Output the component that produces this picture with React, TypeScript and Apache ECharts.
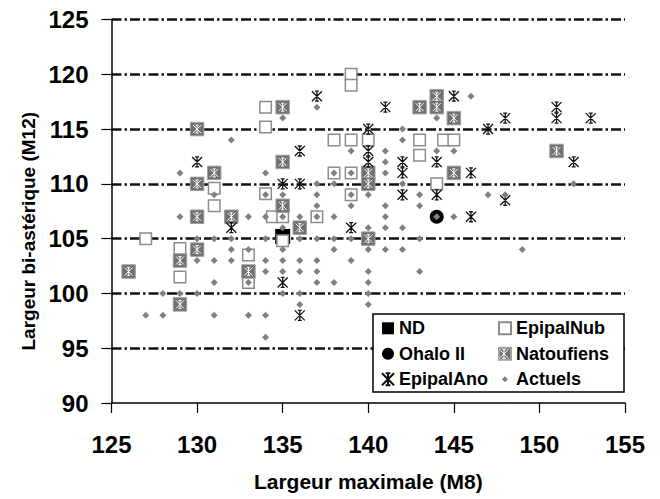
import React, { useEffect, useRef } from 'react';
import * as echarts from 'echarts';

// [Largeur maximale (M8), Largeur bi-astérique (M12)]
const ndData: number[][] = [[135, 105.2]];
const ohaloData: number[][] = [[144, 107]];
const epipalNubData: number[][] = [
  [134, 117], [134, 115.2], [139, 120], [139, 119], [138, 114], [139, 114], [140, 114],
  [143, 114], [144.4, 114], [145, 114], [143, 112.6], [131, 109.6], [134, 109.1],
  [138, 111], [139, 111], [139, 109], [131, 108], [144, 110], [134.4, 107], [135, 107],
  [137, 107], [127, 105], [135, 104.8], [129, 104.1], [133, 103.5], [129, 101.5], [133, 101],
];
const natoufiensData: number[][] = [
  [130, 115], [135, 117], [143, 117], [144, 118], [144, 117], [145, 116], [135, 112],
  [131, 111], [130, 110], [140, 111], [140, 110], [145, 111], [151, 113], [135, 108],
  [130, 107], [132, 107], [136, 106], [140, 105], [130, 104], [129, 103], [126, 102],
  [133, 102], [129, 99],
];
const epipalAnoData: number[][] = [
  [137, 118], [141, 117], [145, 118], [148, 116], [151, 117], [151, 116], [153, 116],
  [147, 115], [140, 115], [136, 113], [140, 113], [130, 112], [140, 112], [142, 112],
  [144, 112], [152, 112], [142, 111], [146, 111], [135, 110], [136, 110], [142, 109],
  [144, 109], [148, 108.5], [146, 107], [132, 106], [139, 106], [135, 101], [136, 98],
];
const actuelsData: number[][] = [
  [132, 114], [129, 111], [134, 111], [135, 116], [137, 117], [144, 116], [146, 118],
  [142, 115], [142, 114], [139, 113], [141, 113], [144, 113], [145, 113], [141, 112],
  [141, 111], [142, 110], [137, 110], [138, 110], [152, 110], [131, 109], [134, 109],
  [135, 109], [137, 109], [139, 109], [140, 109], [143, 109], [147, 109], [148, 109],
  [138, 111], [139, 111], [137, 108], [139, 108], [141, 108], [143, 108],
  [129, 107], [133, 107], [134, 107], [135, 107], [136, 107], [137, 107], [138, 107],
  [141, 107], [144, 107], [145, 107],
  [135, 106], [140, 106], [141, 106], [142, 106],
  [130, 105], [131, 105], [132, 105], [134, 105], [136, 105], [137, 105], [138, 105],
  [139, 105], [143, 105],
  [132, 104], [133, 104], [135, 104], [138, 104], [140, 104], [141, 104], [142, 104], [149, 104],
  [130, 103], [131, 103], [132, 103], [134, 103], [135, 103], [136, 103], [137, 103], [139, 103],
  [134, 102], [135, 102], [136, 102], [137, 102], [140, 102], [143, 102],
  [131, 101], [133, 101], [137, 101], [138, 101], [140, 101],
  [128, 100], [129, 100], [130, 100], [135, 100], [136, 100], [140, 100],
  [136, 99], [140, 99],
  [127, 98], [128, 98], [131, 98], [133, 98], [134, 98],
  [134, 96],
];

const xMin = 125, xMax = 155, xStep = 5;
const yMin = 90, yMax = 125, yStep = 5;

export default function App() {
  const ref = useRef<HTMLDivElement>(null);
  useEffect(() => {
    const chart = echarts.init(ref.current!, null, { renderer: 'svg' });
    const font = "'Liberation Sans', Arial, sans-serif";
    const star = 'path://M0,0L10,10M10,0L0,10M5,0L5,10M3,0L7,0M3,10L7,10';
    const diamondIcon = 'path://M0,0M12,12M6,3L9,6L6,9L3,6Z';
    const legendText = { fontSize: 18, fontWeight: 'bold' as const, fontFamily: font, color: '#000', lineHeight: 20 };
    const legendCommon = {
      orient: 'vertical' as const, top: 318.3, padding: 0, itemWidth: 12, itemHeight: 12,
      itemGap: 5.5, selectedMode: false, textStyle: legendText,
    };
    const rightLeft = 498;
    // legend star overlay position (Natoufiens icon)
    const lx = rightLeft + 6, ly = 318.3 + 25.5 + 10;
    const s = 4.5;
    const starLines = [
      [lx - s, ly - s, lx + s, ly + s], [lx + s, ly - s, lx - s, ly + s], [lx, ly - s, lx, ly + s],
      [lx - 2, ly - s, lx + 2, ly - s], [lx - 2, ly + s, lx + 2, ly + s],
    ].map((p) => ({
      type: 'line', z: 10, silent: true,
      shape: { x1: p[0], y1: p[1], x2: p[2], y2: p[3] },
      style: { stroke: '#fff', lineWidth: 1 },
    }));

    chart.setOption({
      animation: false,
      backgroundColor: '#fff',
      grid: {
        left: 111.5, right: 35, top: 19.5, bottom: 96, containLabel: false,
        outerBoundsMode: 'none',
      },
      xAxis: {
        type: 'value', min: xMin, max: xMax, interval: xStep,
        name: 'Largeur maximale (M8)', nameLocation: 'middle', nameGap: 68,
        nameTextStyle: { fontSize: 21, fontWeight: 'bold', fontFamily: font, color: '#000' },
        axisLine: { show: true, lineStyle: { color: '#000', width: 1.5 } },
        axisTick: { show: true, inside: false, length: 10, lineStyle: { color: '#000', width: 1.2 } },
        axisLabel: { fontSize: 24, fontWeight: 'bold', fontFamily: font, color: '#000', margin: 29 },
        splitLine: { show: false },
      },
      yAxis: {
        type: 'value', min: yMin, max: yMax, interval: yStep,
        name: 'Largeur bi-astérique (M12)', nameLocation: 'middle', nameGap: 71, nameRotate: 90,
        nameTextStyle: {
          fontSize: 19, fontWeight: 'bold', fontFamily: font, color: '#000', padding: [0, 40, 0, 0],
        },
        axisLine: { show: true, lineStyle: { color: '#000', width: 1.5 } },
        axisTick: { show: true, inside: false, length: 10, lineStyle: { color: '#000', width: 1.2 } },
        axisLabel: { fontSize: 24, fontWeight: 'bold', fontFamily: font, color: '#000', margin: 23 },
        splitLine: {
          show: true, showMinLine: false,
          lineStyle: { color: '#111', width: 2.5, type: [10, 3, 2.5, 3] },
        },
      },
      legend: [
        { ...legendCommon, left: 381, data: ['ND', 'Ohalo II', 'EpipalAno'] },
        { ...legendCommon, left: rightLeft, data: ['EpipalNub', 'Natoufiens', { name: 'Actuels', icon: diamondIcon }] },
      ],
      graphic: [
        {
          type: 'rect', z: 3, silent: true,
          shape: { x: 373, y: 314, width: 251, height: 78 },
          style: { fill: '#fff', stroke: '#000', lineWidth: 1.5 },
        },
        ...starLines,
      ],
      series: [
        {
          name: 'ND', type: 'scatter', data: ndData, symbol: 'rect', symbolSize: 15,
          itemStyle: { color: '#000', opacity: 1 }, z: 2,
        },
        {
          name: 'EpipalNub', type: 'scatter', data: epipalNubData, symbol: 'rect', symbolSize: 11.5,
          itemStyle: { color: '#fff', borderColor: '#8c8c8c', borderWidth: 1.5, opacity: 1 }, z: 2,
        },
        {
          name: 'Ohalo II', type: 'scatter', data: ohaloData, symbol: 'circle', symbolSize: 14,
          itemStyle: { color: '#000', opacity: 1 }, z: 2,
        },
        {
          name: 'Natoufiens', type: 'scatter', data: natoufiensData, symbol: 'rect', symbolSize: 13.5,
          itemStyle: { color: '#707070', borderColor: '#a0a0a0', borderWidth: 1, opacity: 1 }, z: 2,
        },
        {
          name: 'Natoufiens-star', type: 'scatter', data: natoufiensData, symbol: star, symbolSize: 8,
          itemStyle: { color: 'rgba(0,0,0,0)', borderColor: '#fff', borderWidth: 1, opacity: 1 }, z: 2,
        },
        {
          name: 'EpipalAno', type: 'scatter', data: epipalAnoData, symbol: star, symbolSize: 10,
          itemStyle: { color: 'rgba(0,0,0,0)', borderColor: '#111', borderWidth: 1.3, opacity: 1 }, z: 2,
        },
        {
          name: 'Actuels', type: 'scatter', data: actuelsData, symbol: 'diamond', symbolSize: 7,
          itemStyle: { color: '#808080', opacity: 1 }, z: 2,
        },
      ],
    });
    return () => chart.dispose();
  }, []);
  return (
    <div
      ref={ref}
      style={{ position: 'fixed', left: 0, top: 0, width: 660, height: 499, background: '#fff' }}
    />
  );
}
